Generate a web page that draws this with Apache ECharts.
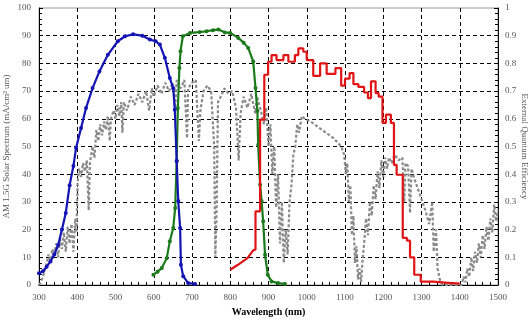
<!DOCTYPE html>
<html>
<head>
<meta charset="utf-8">
<script src="https://cdn.jsdelivr.net/npm/echarts@6/dist/echarts.min.js"></script>
<style>
  html, body { margin: 0; padding: 0; background: #fff; }
  #chart { width: 531px; height: 323px; }
</style>
</head>
<body>
<div id="chart"></div>
<script>
// AM 1.5G photon-current spectrum, mA/cm²·µm  [wavelength nm, value]
const solarSpectrum = [
  [300,0],[305,1],[310,3],[315,5],[320,8],[325,11],[330,8],[335,13],[340,11],[345,15],
  [350,10],[355,17],[360,13],[365,19],[370,12],[375,21],[380,15],[385,22],[390,12],[395,24],
  [398,19],[401,37],[405,42],[410,39],[415,44],[420,41],[425,45],[430,27],[433,44],[440,50],
  [445,46],[450,56],[455,52],[460,58],[465,54],[470,59],[475,56],[480,61],[485,52],[488,60],
  [495,63],[500,60],[505,65],[510,61],[515,66],[518,55],[522,66],[530,63],[540,68],[550,65],
  [560,69],[570,66],[580,70],[588,63],[595,71],[600,68],[610,72],[620,69],[630,73],[640,70],
  [650,73],[656,64],[660,74],[670,71],[680,74],[687,53],[690,71],[700,73],[710,74],[718,52],
  [722,63],[730,70],[740,72],[750,70],[758,50],[761,10],[764,25],[768,66],[775,68],[785,71],
  [795,69],[805,70],[815,64],[822,45],[827,62],[835,68],[845,64],[855,69],[865,62],[870,68],
  [880,63],[888,58],[894,64],[900,50],[905,58],[910,40],[915,50],[920,28],[925,40],[930,15],
  [935,30],[940,8],[945,20],[950,11],[955,30],[960,36],[965,47],[970,50],[975,58],[980,55],
  [987,61],[995,60],[1010,59],[1030,57],[1050,55],[1070,53],[1090,50],[1098,47],[1102,40],[1106,44],
  [1110,30],[1114,36],[1118,18],[1122,25],[1126,8],[1130,14],[1134,2],[1138,6],[1142,1],[1146,9],
  [1150,15],[1155,24],[1160,18],[1165,30],[1170,25],[1175,36],[1180,31],[1185,41],[1190,35],[1195,45],
  [1200,39],[1205,46],[1210,42],[1215,46],[1222,44],[1230,47],[1240,45],[1250,46],[1255,30],[1258,44],
  [1265,43],[1270,26],[1274,42],[1282,38],[1290,35],[1300,31],[1310,27],[1320,22],[1328,30],[1332,12],
  [1338,20],[1342,6],[1348,2],[1355,0],[1405,0],[1410,3],[1415,1],[1420,6],[1425,3],[1430,10],
  [1435,5],[1440,12],[1445,8],[1450,15],[1455,10],[1460,18],[1465,13],[1470,21],[1475,16],[1480,24],
  [1485,19],[1490,29],[1495,23],[1500,27]
];

// External quantum efficiency of the three sub-cells, in percent
const blueCellEQE = [
  [300,4.2],[310,5],[320,6.6],[330,8.5],[340,11],[350,14.4],[360,20],[370,26],[380,36],[390,43],
  [397,49.5],[410,56.7],[423,63.9],[440,71.1],[458,77.1],[480,83.1],[506,88],[525,89.8],[546,90.5],
  [570,90],[590,88.6],[605,88],[616,86.8],[629,82],[642,74.7],[651,71],[655,63.3],[660,44.8],
  [664,30.3],[669,20.6],[671,7.3],[677,3.2],[690,0.7],[708,0.4]
];

const greenCellEQE = [
  [599,3.7],[610,4.8],[621,6.1],[634,9.7],[642,15.8],[651,20.6],[656,27.8],[660,44.8],[663,63.9],
  [667,78.3],[670,84.4],[676,89.8],[695,91],[720,91.3],[738,91.6],[755,92],[769,92.2],[786,91.2],
  [800,91],[821,89.2],[835,87.5],[847,85.6],[860,80.7],[866,71.1],[871,62.8],[873,50.6],[878,36.2],
  [882,30.3],[886,23],[891,10.9],[898,3.7],[908,1.3],[925,0.7],[943,0.4]
];

// Red cell: a short sloped onset, then a stepped response [step start nm, level %]
const redCellOnset = [[800,5.5],[820,7.3],[845,9.7],[860,12.5],[866,12.8]];
const redCellSteps = [
  [866,26.6],[878,59.7],[889,75.9],[899,80.6],[908,83],[921,81.2],[939,83],[952,80.6],[969,83],
  [978,85.4],[991,84.2],[1000,81.2],[1017,75.5],[1035,80],[1052,76.2],[1075,78.3],[1090,72],
  [1100,74.5],[1112,76.5],[1122,72.5],[1135,71.5],[1150,69.5],[1160,67.5],[1168,73.5],[1180,69.3],
  [1188,68],[1198,58.5],[1207,61.5],[1220,58.5],[1228,43.4],[1235,39.8],[1251,17],[1262,16],
  [1270,10],[1281,3.7],[1298,1.2],[1330,0.8],[1370,0.5]
];
const redCellEnd = 1400;

// Tick settings
const wavelengthTicks = { min: 300, max: 1500, step: 100 };
const spectrumTicks = { min: 0, max: 100, step: 10 };
const eqeTicks = { min: 0, max: 1, step: 0.1 };

// Turn a percent EQE list into fractions on the right-hand axis
const toFraction = list => list.map(p => [p[0], p[1] / 100]);

function buildRedTrace() {
  const pts = redCellOnset.slice();
  redCellSteps.forEach((s, i) => {
    const next = i + 1 < redCellSteps.length ? redCellSteps[i + 1][0] : redCellEnd;
    pts.push([s[0], s[1]]);
    pts.push([next, s[1]]);
  });
  return toFraction(pts);
}

const serif = 'Liberation Serif, "Times New Roman", serif';
const axisBlack = { color: '#000', width: 1 };
const gridDash = { type: [4, 3], color: '#000', width: 1 };
const plain = v => String(v);

const chart = echarts.init(document.getElementById('chart'), null, { renderer: 'canvas' });
chart.setOption({
  animation: false,
  backgroundColor: '#fff',
  grid: {
    left: 39, right: 33, top: 8, bottom: 38,
    outerBoundsMode: 'none', containLabel: false,
    show: true, borderColor: '#9a9a9a', borderWidth: 1
  },
  xAxis: {
    type: 'value',
    min: wavelengthTicks.min, max: wavelengthTicks.max, interval: wavelengthTicks.step,
    name: 'Wavelength (nm)', nameLocation: 'middle', nameGap: 22, nameMoveOverlap: false,
    nameTextStyle: { fontFamily: serif, fontWeight: 'bold', fontSize: 10, color: '#000' },
    axisLine: { lineStyle: axisBlack },
    axisTick: { inside: true, length: 4, lineStyle: axisBlack },
    minorTick: { show: true, splitNumber: 5, length: 3, lineStyle: axisBlack },
    axisLabel: { fontFamily: serif, fontSize: 9, color: '#555', margin: 8, formatter: plain },
    splitLine: { show: true, showMinLine: false, showMaxLine: false, lineStyle: gridDash }
  },
  yAxis: [
    {
      type: 'value', position: 'left',
      min: spectrumTicks.min, max: spectrumTicks.max, interval: spectrumTicks.step,
      name: 'AM 1.5G Solar Spectrum (mA/cm² um)', nameLocation: 'middle', nameGap: 28, nameRotate: 90,
      nameMoveOverlap: false,
      nameTextStyle: { fontFamily: serif, fontSize: 9, color: '#555' },
      axisLine: { show: true, lineStyle: axisBlack },
      axisTick: { inside: true, length: 4, lineStyle: axisBlack },
      minorTick: { show: true, splitNumber: 5, length: 3, lineStyle: axisBlack },
      axisLabel: { fontFamily: serif, fontSize: 9, color: '#555', margin: 8, formatter: plain },
      splitLine: { show: true, showMinLine: false, showMaxLine: false, lineStyle: gridDash }
    },
    {
      type: 'value', position: 'right',
      min: eqeTicks.min, max: eqeTicks.max, interval: eqeTicks.step,
      name: 'External Quantum Efficiency', nameLocation: 'middle', nameGap: 22, nameRotate: -90,
      nameMoveOverlap: false,
      nameTextStyle: { fontFamily: serif, fontSize: 9, color: '#555' },
      axisLine: { show: true, lineStyle: axisBlack },
      axisTick: { inside: true, length: 4, lineStyle: axisBlack },
      minorTick: { show: true, splitNumber: 5, length: 3, lineStyle: axisBlack },
      axisLabel: { fontFamily: serif, fontSize: 9, color: '#555', margin: 7 },
      splitLine: { show: false }
    }
  ],
  series: [
    {
      name: 'AM 1.5G', type: 'line', yAxisIndex: 0, data: solarSpectrum,
      showSymbol: false, lineStyle: { color: '#8a8a8a', width: 2.2, type: [3, 2] }, z: 2
    },
    {
      name: 'Top cell', type: 'line', yAxisIndex: 1, data: toFraction(blueCellEQE),
      symbol: 'circle', symbolSize: 4, itemStyle: { color: '#1414b4' },
      lineStyle: { color: '#1414b4', width: 2.2 }, z: 4
    },
    {
      name: 'Middle cell', type: 'line', yAxisIndex: 1, data: toFraction(greenCellEQE),
      symbol: 'circle', symbolSize: 4, itemStyle: { color: '#1c7a1c' },
      lineStyle: { color: '#1c7a1c', width: 2.2 }, z: 3
    },
    {
      name: 'Bottom cell', type: 'line', yAxisIndex: 1, data: buildRedTrace(),
      showSymbol: false, lineStyle: { color: '#e01414', width: 2.2 }, z: 5
    }
  ]
});
</script>
</body>
</html>
